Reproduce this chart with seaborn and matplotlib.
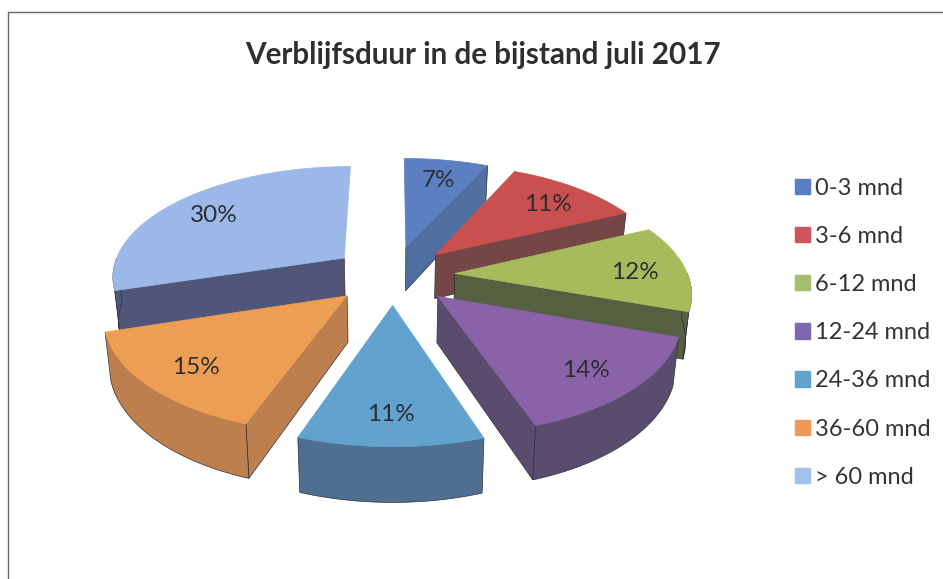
import numpy as np
import matplotlib
matplotlib.use("Agg")
import matplotlib.pyplot as plt
from matplotlib.patches import Patch
import seaborn as sns

# --------------------------
# Data
# --------------------------
titel = "Verblijfsduur in de bijstand juli 2017"
categorieen = ["0-3 mnd", "3-6 mnd", "6-12 mnd", "12-24 mnd", "24-36 mnd", "36-60 mnd", "> 60 mnd"]
# printed labels are rounded, the slice sizes read from the picture are not
aandeel = [6.9, 11.1, 12.4, 14.4, 10.6, 14.8, 29.8]
labels = ["7%", "11%", "12%", "14%", "11%", "15%", "30%"]

kleur_boven = ["#5B7FC1", "#C9504F", "#A6BB5C", "#8A62A8", "#62A2CE", "#EE9D55", "#9BB8E8"]
kleur_zijkant = ["#506E9F", "#744646", "#565F40", "#5A4C6E", "#4F6F90", "#BE7F4E", "#50557A"]
kleur_legenda = ["#5B7DC4", "#D0545F", "#A3BC6E", "#7E68B4", "#5FA3CF", "#F0985A", "#A3C1EE"]
# painter's order, back to front
volgorde = [0, 1, 6, 2, 3, 5, 4]

# --------------------------
# Fake 3D projection in pixel space
# --------------------------
CX, CY = 393, 275
R = 233
KANTEL = 0.472
PERSP = 0.15
EXPLODE = 0.266
DIEPTE = 45


def projecteer(u, v, z=0.0):
    s = 1 / (1 + PERSP * v)
    x = CX + R * u * s * (1 - 0.02 * z)
    y = CY - R * KANTEL * v * s + DIEPTE * s * z
    return x, y


def wedge_punten(start, eind, verschuif, n=60):
    hoeken = np.linspace(start, eind, n)
    return hoeken, verschuif[0] + np.sin(hoeken), verschuif[1] + np.cos(hoeken)


sns.set_theme(style="white")
plt.rcParams["font.family"] = ["Lato", "DejaVu Sans"]
fig, ax = plt.subplots(figsize=(9.43, 5.79), dpi=100)
fig.subplots_adjust(0, 0, 1, 1)
ax.set_xlim(0, 943)
ax.set_ylim(579, 0)
ax.axis("off")

boven = sns.color_palette(kleur_boven)
zijkant = sns.color_palette(kleur_zijkant)

# frame of the scanned chart
ax.plot([8, 8, 943], [579, 12, 12], color="#666666", lw=1.0)

grenzen = np.radians(np.cumsum([0] + aandeel) * 3.6)

for i in volgorde:
    a0, a1 = grenzen[i], grenzen[i + 1]
    mid = (a0 + a1) / 2
    d = (EXPLODE * np.sin(mid), EXPLODE * np.cos(mid))
    tip_x, tip_y = projecteer(d[0], d[1])
    tipb_x, tipb_y = projecteer(d[0], d[1], 1)
    rand = "#2f2f3a"

    # radial side faces, only those turned to the viewer
    for a, zichtbaar in ((a0, np.sin(a0) < 0), (a1, np.sin(a1) > 0)):
        if zichtbaar:
            ex, ey = projecteer(d[0] + np.sin(a), d[1] + np.cos(a))
            fx, fy = projecteer(d[0] + np.sin(a), d[1] + np.cos(a), 1)
            ax.fill([tip_x, ex, fx, tipb_x], [tip_y, ey, fy, tipb_y],
                    color=zijkant[i], ec=rand, lw=0.5, zorder=2)

    # outer curved side
    lo, hi = max(a0, np.pi / 2), min(a1, 3 * np.pi / 2)
    if hi > lo:
        h, u, v = wedge_punten(lo, hi, d)
        x1, y1 = projecteer(u, v)
        x2, y2 = projecteer(u, v, 1)
        ax.fill(np.r_[x1, x2[::-1]], np.r_[y1, y2[::-1]],
                color=zijkant[i], ec=rand, lw=0.5, zorder=2)

    # top face
    h, u, v = wedge_punten(a0, a1, d)
    x, y = projecteer(u, v)
    ax.fill(np.r_[tip_x, x], np.r_[tip_y, y], color=boven[i], ec=boven[i], lw=0.5, zorder=2)

    # label
    lx, ly = projecteer(d[0] + 0.78 * np.sin(mid), d[1] + 0.78 * np.cos(mid))
    ax.text(lx, ly + 3, labels[i], ha="center", va="center",
            fontsize=17.5, color="#2d2d33", zorder=5)

ax.text(483, 55, titel, ha="center", va="center", fontsize=21.3, fontweight="bold", color="#2e2e33")

handles = [Patch(facecolor=k, edgecolor=k, label=c) for k, c in zip(kleur_legenda, categorieen)]
ax.legend(handles=handles, loc="upper left", bbox_to_anchor=(0.843, 0.693), frameon=False,
          fontsize=17, labelspacing=1.15, handlelength=0.62, handleheight=0.62,
          handletextpad=0.25, labelcolor="#333338", borderpad=0, borderaxespad=0)

fig.savefig("out.png", dpi=100)
plt.close(fig)
